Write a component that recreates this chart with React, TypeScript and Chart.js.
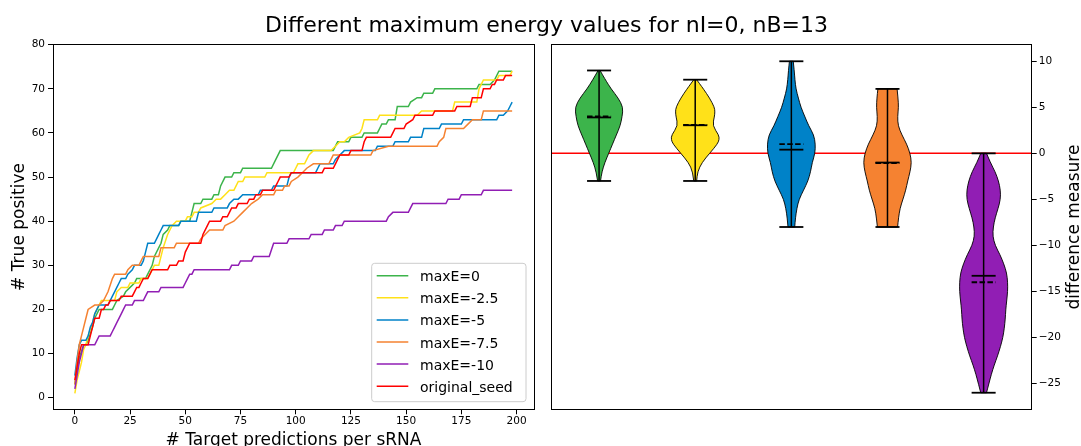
import React, { useEffect, useRef } from 'react';
import { Chart, registerables } from 'chart.js';

Chart.register(...registerables);

const FONT = "'DejaVu Sans', 'Liberation Sans', sans-serif";
Chart.defaults.font.family = FONT;
Chart.defaults.color = '#000';

// ---------- texts ----------
const figureTitle = 'Different maximum energy values for nI=0, nB=13';
const leftXTitle = '# Target predictions per sRNA';
const leftYTitle = '# True positive';
const rightYTitle = 'difference measure';

// ---------- left panel ----------
const xTicksLeft = [0, 25, 50, 75, 100, 125, 150, 175, 200];
const yTicksLeft = [0, 10, 20, 30, 40, 50, 60, 70, 80];
const seriesLabels = ['maxE=0', 'maxE=-2.5', 'maxE=-5', 'maxE=-7.5', 'maxE=-10', 'original_seed'];
const seriesColors = ['#3cb44b', '#ffe119', '#0082c8', '#f58231', '#911eb4', '#ff0000'];

const greenX = [0,1,2,4,5,6,8,9,11,17,18,19,22,23,25,27,28,32,33,34,35,36,38,39,40,42,43,47,48,52,53,54,57,58,62,63,65,66,68,71,72,75,76,89,91,93,117,118,119,124,125,130,131,137,138,139,141,142,145,146,151,152,155,157,158,162,163,182,183,188,190,192,198];
const greenY = [3,6,9,12,12,13,16,18,20,20,21,22,23,24,25,26,27,27,28,29,30,32,34,35,37,38,39,39,40,40,42,44,44,45,45,46,46,48,50,50,51,51,52,52,54,56,56,57,58,58,59,59,60,60,61,62,62,63,63,66,66,67,68,68,69,69,70,70,71,71,72,74,74];

const yellowX = [0,1,2,3,4,5,6,8,9,10,11,12,18,19,21,24,25,29,30,33,34,36,38,40,42,44,46,50,51,53,54,56,57,62,64,66,68,70,72,73,74,76,77,86,87,99,100,101,104,105,106,108,116,118,120,122,124,129,130,131,137,138,155,157,171,172,182,183,185,191,192,197,198];
const yellowY = [1,4,6,8,11,12,14,17,19,20,21,22,22,24,25,25,26,26,27,27,28,30,30,34,37,39,40,40,41,41,42,42,43,44,45,45,46,47,47,48,49,49,50,50,51,51,52,53,53,54,55,56,56,57,58,58,59,60,61,63,63,64,64,65,65,67,67,70,72,72,73,73,74];

const blueX = [0,1,2,3,5,6,7,8,9,10,11,15,16,17,18,19,20,21,23,24,26,27,30,31,32,33,36,37,38,39,40,47,48,55,56,62,63,69,70,72,74,76,83,84,89,90,96,97,98,109,110,111,117,118,120,122,136,137,144,145,151,152,157,158,165,166,175,176,191,192,194,196,197,198];
const blueY = [5,9,12,13,13,14,16,17,19,20,21,21,22,23,24,25,26,27,27,28,29,30,30,31,33,35,35,36,37,38,39,39,40,40,42,42,43,43,44,45,45,46,46,47,47,48,48,50,51,51,52,53,53,54,55,56,56,57,57,58,58,59,59,61,61,62,62,63,63,64,64,65,66,67];

const orangeX = [0,1,2,3,4,5,6,9,11,13,15,17,18,23,24,26,29,30,31,38,39,45,46,56,57,59,61,67,68,72,74,76,78,80,83,85,90,91,94,95,97,98,101,103,105,108,115,116,117,134,135,142,164,165,167,168,176,178,180,184,185,198];
const orangeY = [3,8,12,14,16,18,20,21,21,22,24,27,28,28,29,30,30,31,32,32,34,34,35,35,36,37,38,38,39,40,41,42,43,44,45,46,46,47,47,48,48,49,50,51,52,53,53,54,55,55,56,57,57,58,59,61,61,62,63,63,65,65];

const purpleX = [0,1,2,3,4,9,10,11,16,17,18,19,21,22,23,26,27,31,32,33,38,39,49,50,51,52,53,54,70,71,74,75,80,81,88,90,96,97,106,107,112,113,117,118,121,122,141,142,144,151,152,153,168,169,174,175,184,185,198];
const purpleY = [2,5,8,10,12,12,13,14,14,15,16,17,19,20,21,21,22,22,23,24,24,25,25,26,27,28,28,29,29,30,30,31,31,32,32,35,35,36,36,37,37,38,38,39,39,40,40,41,42,42,43,44,44,45,45,46,46,47,47];

const redX = [0,1,2,3,6,7,8,9,11,12,13,14,15,16,20,21,26,27,28,29,30,31,33,34,35,42,43,46,47,49,50,52,57,58,60,61,66,67,69,70,71,73,74,78,79,81,82,84,85,90,91,92,93,97,98,112,113,117,118,119,120,124,125,130,131,132,143,144,145,149,150,153,154,162,163,172,173,179,180,184,185,188,189,190,191,194,195,198];
const redY = [4,7,10,12,12,14,16,18,18,20,20,21,21,22,22,23,23,24,25,25,26,27,27,28,29,29,30,30,31,31,33,35,35,37,39,40,40,41,41,42,43,43,44,44,45,45,46,46,47,47,48,49,50,50,51,51,52,52,53,54,55,55,56,56,58,59,59,60,61,61,62,63,64,64,65,65,66,66,68,68,70,70,71,71,72,72,73,73];

const seriesXs = [greenX, yellowX, blueX, orangeX, purpleX, redX];
const seriesYs = [greenY, yellowY, blueY, orangeY, purpleY, redY];

// ---------- right panel ----------
const yTicksRight = [-25, -20, -15, -10, -5, 0, 5, 10];
const violinPositions = [1, 2, 3, 4, 5];
const violinColors = ['#3cb44b', '#ffe119', '#0082c8', '#f58231', '#911eb4'];
const violinMins = [-3, -3, -8, -8, -26];
const violinMaxs = [9, 8, 10, 7, 0];
const violinMeans = [3.9, 3.05, 0.4, -1.0, -13.3];
const violinMedians = [4.0, 3.1, 1.0, -1.05, -14.0];

const greenViolinY = [9, 8, 7, 6, 5, 4, 3, 2, 1, 0, -1, -2, -3];
const greenViolinW = [0.01, 0.065, 0.125, 0.2, 0.25, 0.24, 0.22, 0.18, 0.14, 0.1, 0.06, 0.03, 0.015];
const yellowViolinY = [8, 7.5, 7, 6, 5, 4.5, 4, 3, 2, 1.5, 1, 0, -1, -2, -3];
const yellowViolinW = [0.015, 0.05, 0.085, 0.15, 0.2, 0.205, 0.2, 0.18, 0.245, 0.25, 0.23, 0.15, 0.07, 0.025, 0.015];
const blueViolinY = [10, 9, 8, 7, 6, 5, 4, 3, 2, 1, 0, -1, -2, -3, -4, -5, -6, -7, -8];
const blueViolinW = [0.02, 0.03, 0.037, 0.048, 0.073, 0.1, 0.14, 0.18, 0.234, 0.25, 0.246, 0.217, 0.2, 0.173, 0.127, 0.08, 0.057, 0.043, 0.035];
const orangeViolinY = [7, 6, 5, 4, 3, 2, 1, 0, -1, -2, -3, -4, -5, -6, -7, -8];
const orangeViolinW = [0.1, 0.11, 0.115, 0.105, 0.11, 0.15, 0.2, 0.235, 0.25, 0.235, 0.21, 0.19, 0.16, 0.13, 0.115, 0.105];
const purpleViolinY = [0, -1, -2, -3, -4, -5, -6, -7, -8, -9, -10, -11, -12, -13, -14, -15, -16, -17, -18, -19, -20, -21, -22, -23, -24, -25, -26];
const purpleViolinW = [0.03, 0.07, 0.12, 0.155, 0.175, 0.175, 0.15, 0.12, 0.1, 0.095, 0.12, 0.17, 0.21, 0.24, 0.25, 0.25, 0.24, 0.23, 0.225, 0.215, 0.2, 0.175, 0.145, 0.11, 0.08, 0.055, 0.03];

const violinYs = [greenViolinY, yellowViolinY, blueViolinY, orangeViolinY, purpleViolinY];
const violinWs = [greenViolinW, yellowViolinW, blueViolinW, orangeViolinW, purpleViolinW];

const zeroLineX = [0.5, 5.5];
const zeroLineY = [0, 0];

// ---------- helpers ----------
const minusSign = (v: number | string) => String(v).replace('-', '\u2212');

function smoothThrough(ctx: CanvasRenderingContext2D, pts: { x: number; y: number }[], start: boolean) {
  if (start) ctx.moveTo(pts[0].x, pts[0].y);
  else ctx.lineTo(pts[0].x, pts[0].y);
  for (let k = 1; k < pts.length - 1; k++) {
    const mx = (pts[k].x + pts[k + 1].x) / 2;
    const my = (pts[k].y + pts[k + 1].y) / 2;
    ctx.quadraticCurveTo(pts[k].x, pts[k].y, mx, my);
  }
  const last = pts[pts.length - 1];
  ctx.lineTo(last.x, last.y);
}

const framePlugin = {
  id: 'frameBox',
  afterDatasetsDraw(chart: any) {
    const { ctx, chartArea: a } = chart;
    ctx.save();
    ctx.strokeStyle = '#000';
    ctx.lineWidth = 1;
    const l = Math.floor(a.left) + 0.5;
    const t = Math.floor(a.top) + 0.5;
    const r = Math.floor(a.right) + 0.5;
    const b = Math.floor(a.bottom) + 0.5;
    ctx.strokeRect(l, t, r - l, b - t);
    ctx.restore();
  },
};

const boxLegendPlugin = {
  id: 'boxLegend',
  afterDraw(chart: any) {
    const { ctx, chartArea: a } = chart;
    const w = 154.3;
    const h = 138.4;
    const x1 = a.right - 8 - w;
    const y1 = a.bottom - 7.6 - h;
    const r = 3;
    ctx.save();
    ctx.beginPath();
    ctx.moveTo(x1 + r, y1);
    ctx.lineTo(x1 + w - r, y1);
    ctx.quadraticCurveTo(x1 + w, y1, x1 + w, y1 + r);
    ctx.lineTo(x1 + w, y1 + h - r);
    ctx.quadraticCurveTo(x1 + w, y1 + h, x1 + w - r, y1 + h);
    ctx.lineTo(x1 + r, y1 + h);
    ctx.quadraticCurveTo(x1, y1 + h, x1, y1 + h - r);
    ctx.lineTo(x1, y1 + r);
    ctx.quadraticCurveTo(x1, y1, x1 + r, y1);
    ctx.closePath();
    ctx.fillStyle = 'rgba(255,255,255,0.8)';
    ctx.fill();
    ctx.strokeStyle = '#cccccc';
    ctx.lineWidth = 1;
    ctx.stroke();
    chart.data.datasets.forEach((ds: any, i: number) => {
      const cy = y1 + 12.4 + i * 22.1;
      ctx.beginPath();
      ctx.strokeStyle = ds.borderColor;
      ctx.lineWidth = 1.5;
      ctx.moveTo(x1 + 5, cy);
      ctx.lineTo(x1 + 36.6, cy);
      ctx.stroke();
      ctx.fillStyle = '#000';
      ctx.font = `14px ${FONT}`;
      ctx.textAlign = 'left';
      ctx.textBaseline = 'alphabetic';
      ctx.fillText(ds.label, x1 + 48.3, cy + 5.5);
    });
    ctx.restore();
  },
};

const violinPlugin = {
  id: 'violins',
  afterDatasetsDraw(chart: any) {
    const { ctx } = chart;
    const xs = chart.scales.x;
    const ys = chart.scales.y;
    violinPositions.forEach((pos, i) => {
      const vy = violinYs[i];
      const vw = violinWs[i];
      const right = vy.map((yy, k) => ({ x: xs.getPixelForValue(pos + vw[k]), y: ys.getPixelForValue(yy) }));
      const left = vy.map((yy, k) => ({ x: xs.getPixelForValue(pos - vw[k]), y: ys.getPixelForValue(yy) })).reverse();
      ctx.save();
      ctx.beginPath();
      smoothThrough(ctx, right, true);
      smoothThrough(ctx, left, false);
      ctx.closePath();
      ctx.fillStyle = violinColors[i];
      ctx.fill();
      ctx.strokeStyle = '#000';
      ctx.lineWidth = 0.9;
      ctx.stroke();

      const px = xs.getPixelForValue(pos);
      const c0 = xs.getPixelForValue(pos - 0.125);
      const c1 = xs.getPixelForValue(pos + 0.125);
      ctx.strokeStyle = '#000';
      ctx.lineWidth = 1.5;
      ctx.beginPath();
      ctx.moveTo(px, ys.getPixelForValue(violinMins[i]));
      ctx.lineTo(px, ys.getPixelForValue(violinMaxs[i]));
      ctx.stroke();
      ctx.lineWidth = 1.8;
      [violinMins[i], violinMaxs[i], violinMeans[i]].forEach((val) => {
        const py = ys.getPixelForValue(val);
        ctx.beginPath();
        ctx.moveTo(c0, py);
        ctx.lineTo(c1, py);
        ctx.stroke();
      });
      ctx.setLineDash([5.5, 2.4]);
      const pm = ys.getPixelForValue(violinMedians[i]);
      ctx.beginPath();
      ctx.moveTo(c0, pm);
      ctx.lineTo(c1, pm);
      ctx.stroke();
      ctx.restore();
    });
  },
};

const rightTitlePlugin = {
  id: 'rightTitle',
  afterDraw(chart: any) {
    const { ctx, chartArea: a } = chart;
    ctx.save();
    ctx.font = `17px ${FONT}`;
    ctx.fillStyle = '#000';
    ctx.textAlign = 'center';
    ctx.textBaseline = 'middle';
    ctx.translate(chart.width - 6, (a.top + a.bottom) / 2);
    ctx.rotate(-Math.PI / 2);
    ctx.fillText(rightYTitle, 0, 0);
    ctx.restore();
  },
};

const LEFT_W = 545;
const LEFT_H = 460;
const RIGHT_W = 541;
const RIGHT_H = 446;
const PLOT_TOP = 44.7;
const PLOT_BOTTOM = 409.3;

export default function App() {
  const leftRef = useRef<HTMLCanvasElement>(null);
  const rightRef = useRef<HTMLCanvasElement>(null);

  useEffect(() => {
    const tickFont = { size: 10.5, family: FONT };
    const left = new Chart(leftRef.current as HTMLCanvasElement, {
      type: 'scatter',
      data: {
        datasets: seriesLabels.map((label, i) => ({
          label,
          data: seriesXs[i].map((x, k) => ({ x, y: seriesYs[i][k] })),
          borderColor: seriesColors[i],
          backgroundColor: seriesColors[i],
          showLine: true,
          pointRadius: 0,
          borderWidth: 1.5,
          tension: 0,
          order: seriesLabels.length - i,
        })),
      },
      options: {
        animation: false,
        responsive: false,
        maintainAspectRatio: false,
        layout: { padding: { left: 0, right: 11, top: PLOT_TOP, bottom: 0 } },
        plugins: { legend: { display: false }, tooltip: { enabled: false } },
        scales: {
          x: {
            type: 'linear',
            min: -9.9,
            max: 207.9,
            afterBuildTicks: (s: any) => { s.ticks = xTicksLeft.map((v) => ({ value: v })); },
            afterFit: (s: any) => { s.height = LEFT_H - PLOT_BOTTOM; },
            grid: { drawOnChartArea: false, drawTicks: true, tickLength: 5, color: '#000', lineWidth: 1 },
            border: { display: false },
            ticks: { font: tickFont, color: '#000', padding: 1, maxRotation: 0, autoSkip: false },
            title: { display: true, text: leftXTitle, color: '#000', font: { size: 17, family: FONT }, padding: { top: 0, bottom: 9.2 } },
          },
          y: {
            type: 'linear',
            min: -2.63,
            max: 80,
            afterBuildTicks: (s: any) => { s.ticks = yTicksLeft.map((v) => ({ value: v })); },
            afterFit: (s: any) => { s.width = 53; },
            grid: { drawOnChartArea: false, drawTicks: true, tickLength: 5, color: '#000', lineWidth: 1 },
            border: { display: false },
            ticks: { font: tickFont, color: '#000', padding: 3, autoSkip: false },
            title: { display: true, text: leftYTitle, color: '#000', font: { size: 17, family: FONT }, padding: { top: 9, bottom: 0 } },
          },
        },
      } as any,
      plugins: [framePlugin, boxLegendPlugin],
    });

    const right = new Chart(rightRef.current as HTMLCanvasElement, {
      type: 'scatter',
      data: {
        datasets: [
          {
            label: 'zero',
            data: zeroLineX.map((x, k) => ({ x, y: zeroLineY[k] })),
            borderColor: '#ff0000',
            backgroundColor: '#ff0000',
            showLine: true,
            pointRadius: 0,
            borderWidth: 1.5,
          },
        ],
      },
      options: {
        animation: false,
        responsive: false,
        maintainAspectRatio: false,
        layout: { padding: { left: 11, right: 0, top: PLOT_TOP, bottom: RIGHT_H - PLOT_BOTTOM } },
        plugins: { legend: { display: false }, tooltip: { enabled: false } },
        scales: {
          x: { type: 'linear', display: false, min: 0.5, max: 5.5 },
          y: {
            type: 'linear',
            position: 'right',
            min: -27.8,
            max: 11.8,
            afterBuildTicks: (s: any) => { s.ticks = yTicksRight.map((v) => ({ value: v })); },
            afterFit: (s: any) => { s.width = 49.3; },
            grid: { drawOnChartArea: false, drawTicks: true, tickLength: 5, color: '#000', lineWidth: 1 },
            border: { display: false },
            ticks: { font: tickFont, color: '#000', padding: 2, autoSkip: false, callback: (v: any) => minusSign(v) },
          },
        },
      } as any,
      plugins: [violinPlugin, framePlugin, rightTitlePlugin],
    });

    return () => {
      left.destroy();
      right.destroy();
    };
  }, []);

  return (
    <div
      style={{
        position: 'fixed',
        left: 0,
        top: 0,
        width: 1081,
        height: 446,
        overflow: 'hidden',
        background: '#fff',
        fontFamily: FONT,
      }}
    >
      <canvas
        ref={leftRef}
        width={LEFT_W}
        height={LEFT_H}
        style={{ position: 'absolute', left: 0, top: 0, width: LEFT_W, height: LEFT_H }}
      />
      <canvas
        ref={rightRef}
        width={RIGHT_W}
        height={RIGHT_H}
        style={{ position: 'absolute', left: 540, top: 0, width: RIGHT_W, height: RIGHT_H }}
      />
      <div
        style={{
          position: 'absolute',
          left: 0,
          top: 10,
          width: 1093,
          textAlign: 'center',
          fontSize: 22,
          lineHeight: '30px',
          color: '#000',
          whiteSpace: 'nowrap',
        }}
      >
        {figureTitle}
      </div>
    </div>
  );
}
